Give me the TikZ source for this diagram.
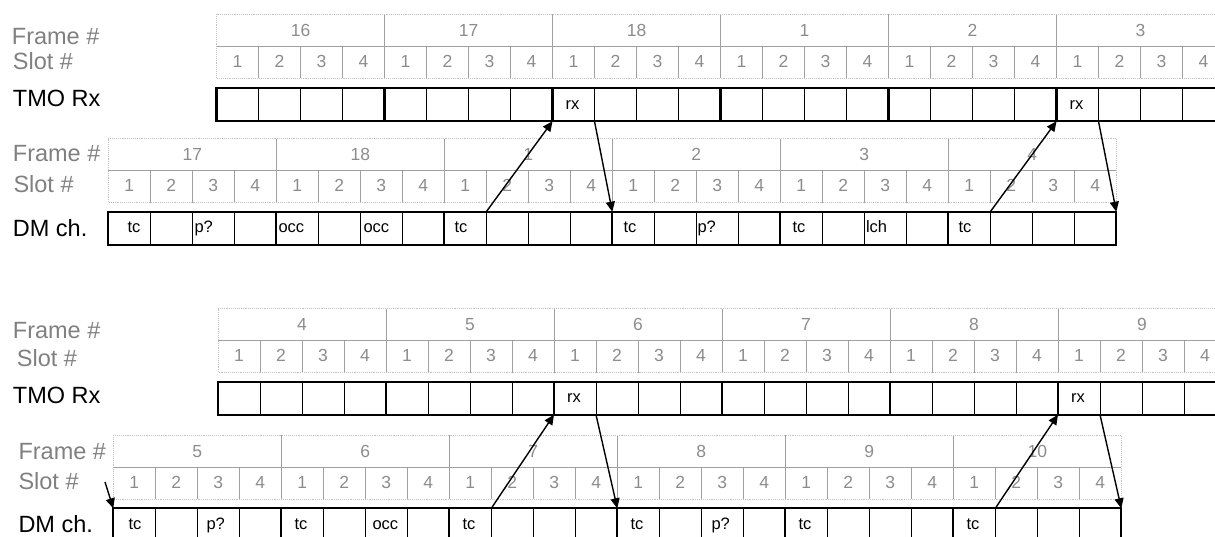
\documentclass[tikz,border=0pt]{standalone}
\usepackage{fontspec}
\setmainfont{Liberation Sans}
\usetikzlibrary{arrows.meta,calc}
\definecolor{lblgray}{RGB}{128,128,128}
\definecolor{numgray}{RGB}{140,140,140}
\definecolor{hdrgray}{RGB}{160,160,160}
\definecolor{outgray}{RGB}{195,195,195}
\tikzset{
  lbl/.style={anchor=base west, inner sep=0pt, font=\fontsize{23.5}{27}\selectfont},
  glbl/.style={lbl, text=lblgray},
  frmnum/.style={anchor=base, inner sep=0pt, text=numgray, font=\fontsize{17.5}{20}\selectfont},
  sltnum/.style={frmnum},
  hdrline/.style={draw=hdrgray, line width=0.9pt},
  hdrouter/.style={draw=outgray, line width=0.9pt, densely dotted},
  cellbox/.style={draw=black, line width=0.9pt, minimum width=42pt, minimum height=33pt, inner sep=0pt, outer sep=0pt},
  frmbox/.style={draw=black, line width=2.2pt, minimum width=168pt, minimum height=33pt, inner sep=0pt, outer sep=0pt},
  celltxt/.style={anchor=base west, inner sep=0pt, font=\fontsize{16.5}{19}\selectfont},
  arr/.style={-{Triangle[length=10pt,width=9pt]}, line width=1.4pt}
}
\newcommand\hdrrow[4]{%
  \foreach \f [count=\i from 0] in {#4} {
    \pgfmathsetmacro\fx{#2+168*\i}
    \node[frmnum] (#1F\i) at (\fx+84, #3+22) {\f};
    \foreach \s in {1,2,3,4} {
      \node[sltnum] (#1S\i-\s) at (\fx+42*\s-21, #3+32+21) {\s};
      \ifnum\s>1 \draw[hdrline] (\fx+42*\s-42, #3+32) -- ++(0,32); \fi
    }
    \ifnum\i>0 \draw[hdrline] (\fx, #3) -- ++(0,64); \fi
  }
  \draw[hdrline] (#2, #3+32) -- (#2+1008, #3+32);
  \draw[hdrouter] (#2,#3) rectangle (#2+1008,#3+64);
}
\newcommand\boxrow[3]{%
  \foreach \i in {0,...,5} {
    \pgfmathsetmacro\fx{#2+168*\i}
    \foreach \s in {1,2,3,4}
      \node[cellbox] (#1C\i-\s) at (\fx+42*\s-21, #3+16.5) {};
    \node[frmbox] (#1B\i) at (\fx+84, #3+16.5) {};
  }
}
\newcommand\celltext[3]{\node[celltxt] (#1T) at ($(#1.north west)+(#2,21)$) {#3};}
\begin{document}
\begin{tikzpicture}[x=1pt,y=-1pt]
\useasboundingbox (0,0) rectangle (1215,536);
\clip (0,0) rectangle (1215,536);

% ===== top section =====
\node[glbl] (tFl) at (11.7,44.3) {Frame \#};
\node[glbl] (tSl) at (12.7,69.3) {Slot \#};
\node[lbl] (tTl) at (12.7,106) {TMO Rx};
\hdrrow{tH}{216.5}{14}{16,17,18,1,2,3}
\boxrow{tT}{216.5}{88.3}
\celltext{tTC2-1}{13}{rx}
\celltext{tTC5-1}{13}{rx}

\node[glbl] (dFl) at (12.7,161) {Frame \#};
\node[glbl] (dSl) at (13.3,192.7) {Slot \#};
\node[lbl] (dDl) at (12.7,236) {DM ch.};
\hdrrow{dH}{108.3}{138.5}{17,18,1,2,3,4}
\boxrow{tD}{108.3}{211.7}
\celltext{tDC0-1}{19}{tc}
\celltext{tDC0-3}{2}{p?}
\celltext{tDC1-1}{2}{occ}
\celltext{tDC1-3}{3}{occ}
\celltext{tDC2-1}{10}{tc}
\celltext{tDC3-1}{11}{tc}
\celltext{tDC3-3}{1}{p?}
\celltext{tDC4-1}{12}{tc}
\celltext{tDC4-3}{1.5}{lch}
\celltext{tDC5-1}{10}{tc}

\draw[arr] (tDC2-2.north west) -- (tTC2-1.south west);
\draw[arr] (tTC2-1.south east) -- (tDC3-1.north west);
\draw[arr] (tDC5-2.north west) -- (tTC5-1.south west);
\draw[arr] (tTC5-1.south east) -- (tDC5-4.north east);

% ===== bottom section =====
\node[glbl] (bFl) at (12.7,338.3) {Frame \#};
\node[glbl] (bSl) at (16.7,366) {Slot \#};
\node[lbl] (bTl) at (12.7,403.3) {TMO Rx};
\hdrrow{bH}{218}{308.5}{4,5,6,7,8,9}
\boxrow{bT}{218}{381.7}
\celltext{bTC2-1}{13}{rx}
\celltext{bTC5-1}{13}{rx}

\node[glbl] (eFl) at (18.3,459.3) {Frame \#};
\node[glbl] (eSl) at (18.3,489.3) {Slot \#};
\node[lbl] (eDl) at (18.3,532.7) {DM ch.};
\hdrrow{eH}{113.3}{435}{5,6,7,8,9,10}
\boxrow{bD}{113.3}{508.3}
\celltext{bDC0-1}{15}{tc}
\celltext{bDC0-3}{9}{p?}
\celltext{bDC1-1}{13}{tc}
\celltext{bDC1-3}{7}{occ}
\celltext{bDC2-1}{13}{tc}
\celltext{bDC3-1}{13}{tc}
\celltext{bDC3-3}{10}{p?}
\celltext{bDC4-1}{13}{tc}
\celltext{bDC5-1}{13}{tc}

\coordinate (bIn) at (105,482);
\draw[arr] (bIn) -- (bDC0-1.north west);
\draw[arr] (bDC2-2.north west) -- (bTC2-1.south west);
\draw[arr] (bTC2-1.south east) -- (bDC3-1.north west);
\draw[arr] (bDC5-2.north west) -- (bTC5-1.south west);
\draw[arr] (bTC5-1.south east) -- (bDC5-4.north east);
\end{tikzpicture}
\end{document}
